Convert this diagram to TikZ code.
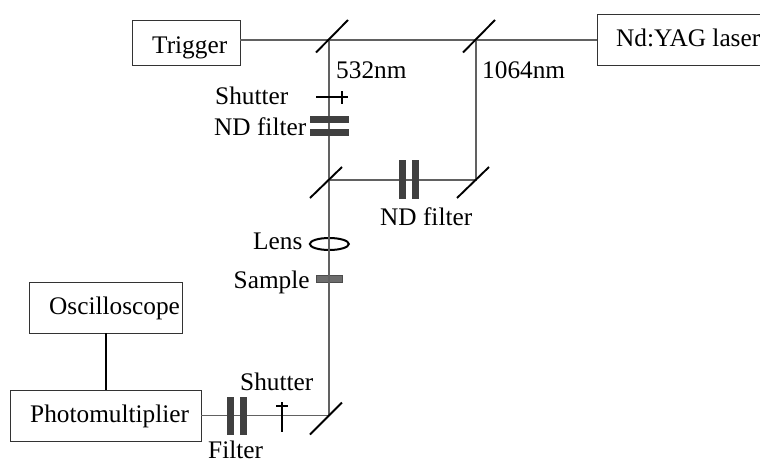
\documentclass[tikz,border=0pt]{standalone}
\usepackage{fontspec}
\setmainfont{Liberation Serif}
\definecolor{beam}{gray}{0.38}
\definecolor{dark}{gray}{0.25}
\tikzset{x=1pt,y=-1pt,
 box/.style={draw=black!80,line width=1pt,minimum width=#1,minimum height=46pt,inner sep=0pt,outer sep=0pt},
 lab/.style={inner sep=0pt,anchor=base west,font=\fontsize{25.3}{26}\selectfont},
 beamline/.style={draw=beam,line width=1.1pt},
 mirror/.style={draw=black,line width=1.9pt},
 plate/.style={fill=dark,draw=none},
 thick wire/.style={draw=black,line width=1.7pt}}
\begin{document}
\begin{tikzpicture}
\useasboundingbox (0,0) rectangle (760,461);
% boxes
\node[box=108pt,minimum height=45pt] (trig) at (186,42.5) {};
\node[box=200pt,minimum height=51pt] (yag) at (697,40) {};
\node[box=153pt,minimum height=51pt] (osc) at (105.5,307.5) {};
\node[box=191pt,minimum height=51pt] (pm) at (105.5,415.5) {};
\node[lab] (ttrig) at (152,53) {Trigger};
\node[lab] (tyag) at (616,46) {Nd:YAG laser};
\node[lab] (tosc) at (49,314) {Oscilloscope};
\node[lab] (tpm) at (30,422) {Photomultiplier};
% mirror positions
\coordinate (m1) at (329,40);
\coordinate (m2) at (476,40);
\coordinate (m3) at (329,180);
\coordinate (m4) at (476,180);
\coordinate (m5) at (329,415.5);
% sample, lens (beam passes over them)
\fill[fill=gray!85!black,draw=black!70,line width=0.8pt] (316,275) rectangle (342,282);
\draw[draw=black,line width=2pt] (329.3,244) ellipse (19.5 and 6);
% beams
\draw[beamline] (trig.east |- m1) -- (m1) -- (m2) -- (yag.west |- m2);
\draw[beamline] (m2) -- (m4) -- (m3);
\draw[beamline] (m1) -- (m3) -- (m5) -- (pm.east |- m5);
\draw[thick wire] (osc.south -| 106,0) -- (pm.north -| 106,0);
% mirrors
\draw[mirror] (m1)+(-13,12.5) -- +(19,-20);
\draw[mirror] (m2)+(-13,12.5) -- +(19,-20);
\draw[mirror] (m3)+(-19,18) -- +(13,-13);
\draw[mirror] (m4)+(-19,18) -- +(13,-13);
\draw[mirror] (m5)+(-19,19) -- +(13,-13);
% top shutter
\draw[mirror] (316,97) -- (348,97);
\draw[mirror] (342,91) -- (342,104);
% top ND filter
\fill[plate] (310,116) rectangle (349,123);
\fill[plate] (310,129) rectangle (349,136);
% horizontal ND filter
\fill[plate] (399,160) rectangle (406,199);
\fill[plate] (412,160) rectangle (419,199);
% bottom filter
\fill[plate] (227,397) rectangle (234,435);
\fill[plate] (240,397) rectangle (247,435);
% bottom shutter
\draw[mirror] (282,402) -- (282,432);
\draw[mirror] (276,406) -- (288,406);
% labels
\node[lab] (t532) at (336,78) {532nm};
\node[lab] (t1064) at (482,78) {1064nm};
\node[lab] (tsh1) at (215,104) {Shutter};
\node[lab] (tnd1) at (214,135) {ND filter};
\node[lab] (tnd2) at (380,225) {ND filter};
\node[lab] (tlens) at (253,249.5) {Lens};
\node[lab] (tsam) at (233.5,288) {Sample};
\node[lab] (tsh2) at (240,390) {Shutter};
\node[lab] (tfil) at (208,458) {Filter};
\end{tikzpicture}
\end{document}
